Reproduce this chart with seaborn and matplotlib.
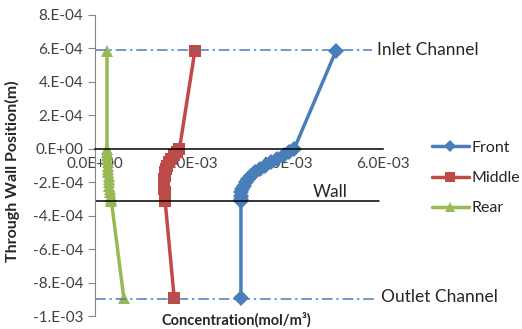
import numpy as np
import pandas as pd
import seaborn as sns
import matplotlib.pyplot as plt
from matplotlib.ticker import FuncFormatter, MultipleLocator

# through-wall positions (m): inlet point, dense points inside the wall, outlet point
position = [5.85e-4, 0.0, -0.2e-4, -0.4e-4, -0.6e-4, -0.8e-4, -1.0e-4, -1.2e-4,
            -1.4e-4, -1.6e-4, -1.8e-4, -2.0e-4, -2.2e-4, -2.4e-4, -2.6e-4,
            -2.8e-4, -3.0e-4, -3.1e-4, -8.92e-4]

front = [5.02e-3, 4.15e-3, 4.05e-3, 3.93e-3, 3.80e-3, 3.66e-3, 3.55e-3, 3.44e-3,
         3.34e-3, 3.26e-3, 3.19e-3, 3.14e-3, 3.10e-3, 3.07e-3, 3.05e-3,
         3.04e-3, 3.04e-3, 3.04e-3, 3.04e-3]
middle = [2.08e-3, 1.76e-3, 1.70e-3, 1.64e-3, 1.59e-3, 1.55e-3, 1.51e-3, 1.48e-3,
          1.46e-3, 1.45e-3, 1.44e-3, 1.44e-3, 1.44e-3, 1.44e-3, 1.45e-3,
          1.45e-3, 1.46e-3, 1.46e-3, 1.65e-3]
rear = [2.50e-4, 2.50e-4, 2.52e-4, 2.55e-4, 2.58e-4, 2.62e-4, 2.66e-4, 2.71e-4,
        2.76e-4, 2.82e-4, 2.88e-4, 2.95e-4, 3.02e-4, 3.10e-4, 3.18e-4,
        3.27e-4, 3.36e-4, 3.40e-4, 6.00e-4]

series_names = ["Front", "Middle", "Rear"]
colors = ["#4A7EBB", "#BE4B48", "#98B954"]

# boundaries
inlet_y = 5.9e-4
wall_y = -3.15e-4
outlet_y = -8.98e-4

df = pd.DataFrame({
    "conc": front + middle + rear,
    "pos": position * 3,
    "series": np.repeat(series_names, len(position)),
})

sns.set_style("white")
plt.rcParams["font.family"] = ["Lato", "DejaVu Sans"]

fig = plt.figure(figsize=(5.22, 3.29), dpi=100)
ax = fig.add_axes([95 / 522, 13 / 329, 288 / 522, 301 / 329])

sns.lineplot(data=df, x="conc", y="pos", hue="series", style="series",
             palette=dict(zip(series_names, colors)),
             markers={"Front": "D", "Middle": "s", "Rear": "^"},
             dashes=False, sort=False, estimator=None, linewidth=2.5,
             markersize=8, markeredgewidth=0, ax=ax)

# channel / wall lines
ax.plot([0, 5.78e-3], [inlet_y, inlet_y], color="#4A7EBB", lw=1.1,
        dashes=(7, 2.5, 1.5, 2.5), clip_on=False)
ax.plot([0, 5.85e-3], [outlet_y, outlet_y], color="#4A7EBB", lw=1.1,
        dashes=(7, 2.5, 1.5, 2.5), clip_on=False)
ax.plot([0, 5.92e-3], [wall_y, wall_y], color="black", lw=1.1)

ax.text(5.88e-3, inlet_y, "Inlet Channel", fontsize=12.5, va="center", ha="left", clip_on=False)
ax.text(4.54e-3, -2.6e-4, "Wall", fontsize=12.5, va="center", ha="left")
ax.text(5.96e-3, -8.86e-4, "Outlet Channel", fontsize=12.5, va="center", ha="left", clip_on=False)

ax.set_xlim(0, 6e-3)
ax.set_ylim(-1e-3, 8e-4)
ax.xaxis.set_major_locator(MultipleLocator(2e-3))
ax.yaxis.set_major_locator(MultipleLocator(2e-4))
ax.xaxis.set_major_formatter(FuncFormatter(lambda v, p: f"{v:.1E}"))
ax.yaxis.set_major_formatter(FuncFormatter(lambda v, p: f"{v:#.0E}"))

ax.spines["top"].set_visible(False)
ax.spines["right"].set_visible(False)
ax.spines["bottom"].set_position(("data", 0))
ax.spines["bottom"].set_color("black")
ax.spines["bottom"].set_linewidth(1.1)
ax.spines["left"].set_color("#868686")
ax.tick_params(axis="x", direction="out", length=4, color="#868686",
               labelsize=11, labelcolor="#404040", pad=2)
ax.tick_params(axis="y", direction="out", length=5, color="#868686",
               labelsize=11, labelcolor="#404040", left=True)
ax.set_xlabel("")
ax.set_ylabel("")

fig.text(12 / 522, 1 - 171 / 329, "Through Wall Position(m)", rotation=90,
         fontsize=11.5, fontweight="bold", ha="center", va="center")
fig.text(162 / 522, 1 - 325 / 329, "Concentration(mol/m³)",
         fontsize=10.5, fontweight="bold", ha="left", va="baseline")

handles, labels = ax.get_legend_handles_labels()
leg = ax.legend(handles, labels, loc="center left", bbox_to_anchor=(432 / 522, 1 - 178 / 329),
                bbox_transform=fig.transFigure, frameon=False, fontsize=11.5,
                labelspacing=1.0, handlelength=2.3, handletextpad=0.15,
                borderpad=0, borderaxespad=0)
for h in leg.legend_handles:
    h.set_markersize(6.5)

fig.savefig("out.png", dpi=100)
